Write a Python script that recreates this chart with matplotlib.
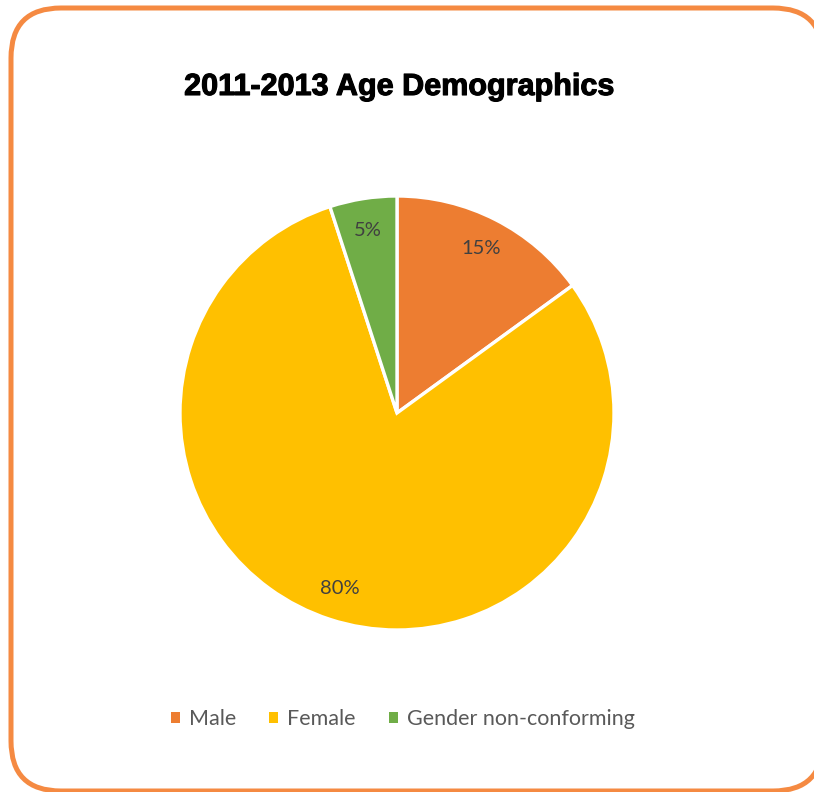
import matplotlib.pyplot as plt
from matplotlib.patches import FancyBboxPatch, Patch
import matplotlib.patheffects as pe

# data
labels = ['Male', 'Female', 'Gender non-conforming']
shares = [15, 80, 5]
colors = ['#ED7D31', '#FFC000', '#70AD47']
title = '2011-2013 Age Demographics'

W, H = 814, 792
fig = plt.figure(figsize=(W / 100, H / 100), dpi=100)

# background axes in pixel units for the rounded frame
bg = fig.add_axes([0, 0, 1, 1], zorder=-1)
bg.set_xlim(0, W)
bg.set_ylim(H, 0)
bg.axis('off')
frame = FancyBboxPatch((11, 8), 812, 783,
                       boxstyle='round,pad=0,rounding_size=50',
                       facecolor='white', edgecolor='#F58A42', linewidth=3.6)
bg.add_patch(frame)

# pie axes: centre (397, 413), radius 217 px
cx, cy, r = 397, 413, 217
ax = fig.add_axes([(cx - r) / W, 1 - (cy + r) / H, 2 * r / W, 2 * r / H])
wedges, texts, autotexts = ax.pie(
    shares, colors=colors, startangle=90, counterclock=False,
    autopct='%d%%', pctdistance=0.85,
    wedgeprops=dict(edgecolor='white', linewidth=2.4),
    textprops=dict(color='#404040', fontsize=14.5, family='Lato'))
ax.set_xlim(-1, 1)
ax.set_ylim(-1, 1)
ax.set_aspect('equal')
ax.axis('off')

fig.text(399 / W, 1 - 87 / H, title, ha='center', va='center',
         fontsize=22, fontweight='bold', family='Liberation Sans',
         path_effects=[pe.withStroke(linewidth=0.8, foreground='black')])

handles = [Patch(facecolor=c, edgecolor='none') for c in colors]
fig.legend(handles, labels, loc='center', bbox_to_anchor=(403 / W, 1 - 719 / H),
           ncol=3, frameon=False, handlelength=0.42, handleheight=0.42,
           handletextpad=0.42, columnspacing=1.55,
           prop=dict(family='Lato', size=15.5), labelcolor='#595959')

fig.savefig('out.png', dpi=100)
